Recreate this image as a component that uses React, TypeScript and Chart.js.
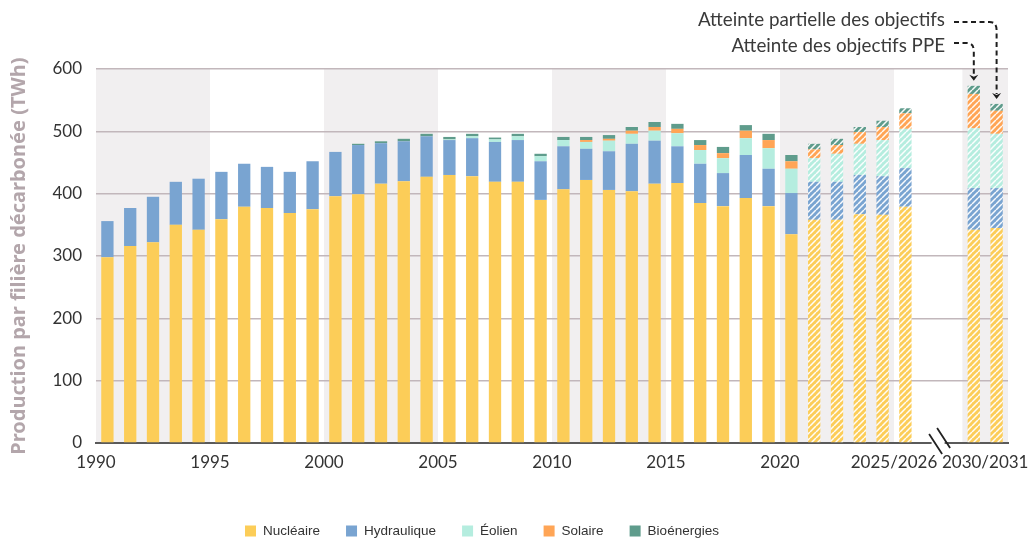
import React, { useEffect, useRef } from "react";
import { Chart, registerables } from "chart.js";

Chart.register(...registerables);

const categories = [
  "1990", "1991", "1992", "1993", "1994", "1995", "1996", "1997", "1998", "1999",
  "2000", "2001", "2002", "2003", "2004", "2005", "2006", "2007", "2008", "2009",
  "2010", "2011", "2012", "2013", "2014", "2015", "2016", "2017", "2018", "2019",
  "2020", "2021", "2022", "2023", "2024", "2025/2026", "…", "……",
  "2030/2031 (objectifs PPE)", "2030/2031 (atteinte partielle)",
];

const tickLabels = [
  "1990", "", "", "", "", "1995", "", "", "", "",
  "2000", "", "", "", "", "2005", "", "", "", "",
  "2010", "", "", "", "", "2015", "", "", "", "",
  "2020", "", "", "", "", "2025/2026", "", "",
  "", "2030/2031",
];

const nucleaire = [
  298, 316, 322, 350, 342, 359, 379, 377, 369, 375,
  396, 399, 416, 420, 427, 430, 428, 419, 419, 390,
  407, 422, 406, 404, 416, 417, 385, 380, 393, 380,
  335, 358, 358, 367, 366, 379, null, null, 342, 345,
];
const hydraulique = [
  58, 61, 73, 69, 82, 76, 69, 66, 66, 77,
  71, 79, 65, 64, 65, 56, 61, 64, 67, 62,
  69, 50, 62, 76, 69, 59, 63, 53, 69, 60,
  66, 61, 61, 63, 62, 62, null, null, 67, 64,
];
const eolien = [
  0, 0, 0, 0, 0, 0, 0, 0, 0, 0,
  0, 0, 0, 0, 0, 1, 3, 4, 6, 8,
  10, 11, 17, 16, 16, 21, 22, 24, 27, 33,
  39, 38, 45, 50, 58, 63, null, null, 96, 87,
];
const solaire = [
  0, 0, 0, 0, 0, 0, 0, 0, 0, 0,
  0, 0, 0, 0, 0, 0, 0, 0, 0, 0,
  0, 3, 3, 5, 6, 7, 8, 8, 12, 13,
  12, 14, 14, 19, 21, 25, null, null, 55, 37,
];
const bioenergies = [
  0, 0, 0, 0, 0, 0, 0, 0, 0, 0,
  0, 2, 3, 4, 4, 4, 4, 3, 4, 4,
  5, 5, 6, 6, 8, 8, 8, 10, 9, 10,
  10, 9, 10, 8, 10, 8, null, null, 13, 11,
];

const seriesNames = ["Nucléaire", "Hydraulique", "Éolien", "Solaire", "Bioénergies"];
const annotationTexts = ["Atteinte partielle des objectifs", "Atteinte des objectifs PPE"];

const COLORS = ["#fccd58", "#79a4d1", "#b5eddf", "#ffa556", "#5f9c8c"];
const HATCH_FROM = 31;
const SHADED_BANDS = [[0, 4], [10, 14], [20, 24], [30, 34], [38, 39]];

function makePattern(color: string): CanvasPattern | string {
  const s = 6;
  const c = document.createElement("canvas");
  c.width = s;
  c.height = s;
  const g = c.getContext("2d");
  if (!g) return color;
  g.fillStyle = color;
  g.fillRect(0, 0, s, s);
  g.strokeStyle = "rgba(255,255,255,0.95)";
  g.lineWidth = 1.5;
  g.beginPath();
  for (const k of [-s, 0, s]) {
    g.moveTo(k, s);
    g.lineTo(k + s, 0);
  }
  g.stroke();
  const p = g.createPattern(c, "repeat");
  return p || color;
}

export default function App() {
  const ref = useRef<HTMLCanvasElement | null>(null);

  useEffect(() => {
    const canvas = ref.current;
    if (!canvas) return;
    const patterns = COLORS.map((c) => makePattern(c));
    const values = [nucleaire, hydraulique, eolien, solaire, bioenergies];

    const bandsPlugin = {
      id: "bands",
      beforeDraw(chart: any) {
        const { ctx, chartArea, scales } = chart;
        const x = scales.x;
        const w = x.getPixelForValue(1) - x.getPixelForValue(0);
        ctx.save();
        ctx.fillStyle = "#f1eff0";
        for (const [a, b] of SHADED_BANDS) {
          const l = x.getPixelForValue(a) - w / 2;
          const r = x.getPixelForValue(b) + w / 2;
          ctx.fillRect(l, chartArea.top, r - l, chartArea.bottom - chartArea.top);
        }
        ctx.restore();
      },
    };

    const overlayPlugin = {
      id: "overlay",
      afterDraw(chart: any) {
        const { ctx, chartArea, scales } = chart;
        const x = scales.x;
        const y = scales.y;
        // axis break
        const cx = (x.getPixelForValue(36) + x.getPixelForValue(37)) / 2;
        const by = chartArea.bottom;
        ctx.save();
        ctx.fillStyle = "#ffffff";
        ctx.fillRect(cx - 8, by - 2.5, 13, 5);
        ctx.strokeStyle = "#222";
        ctx.lineWidth = 1.8;
        ctx.beginPath();
        for (const [ox, oy] of [[-4, 1], [4, -5]]) {
          ctx.moveTo(cx + ox - 6.5, by + oy - 10);
          ctx.lineTo(cx + ox + 6.5, by + oy + 10);
        }
        ctx.stroke();

        // annotations
        const total = (i: number) => values.reduce((s, arr) => s + (arr[i] || 0), 0);
        const xa = x.getPixelForValue(38);
        const xb = x.getPixelForValue(39);
        const ta = y.getPixelForValue(total(38)) - 5;
        const tb = y.getPixelForValue(total(39)) - 5;

        ctx.font = '18.8px Lato, "Open Sans", sans-serif';
        ctx.fillStyle = "#3a3a3a";
        ctx.textAlign = "right";
        ctx.textBaseline = "middle";
        ctx.fillText(annotationTexts[0], 945, 20);
        ctx.fillText(annotationTexts[1], 945, 46);

        ctx.strokeStyle = "#1e1e1e";
        ctx.lineWidth = 2;
        ctx.setLineDash([5, 3.5]);
        ctx.beginPath();
        ctx.moveTo(954, 22);
        ctx.lineTo(xb - 7, 22);
        ctx.quadraticCurveTo(xb, 22, xb, 30);
        ctx.lineTo(xb, tb - 5);
        ctx.moveTo(954, 43);
        ctx.lineTo(xa - 7, 43);
        ctx.quadraticCurveTo(xa, 43, xa, 51);
        ctx.lineTo(xa, ta - 5);
        ctx.stroke();
        ctx.setLineDash([]);
        ctx.fillStyle = "#1e1e1e";
        for (const [px, py] of [[xa, ta], [xb, tb]]) {
          ctx.beginPath();
          ctx.moveTo(px, py);
          ctx.lineTo(px - 4.5, py - 6);
          ctx.lineTo(px, py - 4);
          ctx.lineTo(px + 4.5, py - 6);
          ctx.closePath();
          ctx.fill();
        }

        // legend
        ctx.font = '13.5px "Liberation Sans", Arial, sans-serif';
        ctx.textAlign = "left";
        ctx.textBaseline = "middle";
        let lx = 245;
        const ly = 531;
        seriesNames.forEach((name, k) => {
          ctx.fillStyle = COLORS[k];
          ctx.fillRect(lx, ly - 5.5, 11, 11);
          ctx.fillStyle = "#333";
          ctx.fillText(name, lx + 18, ly);
          lx += 18 + ctx.measureText(name).width + 26;
        });
        ctx.restore();
      },
    };

    const chart = new Chart(canvas, {
      type: "bar",
      data: {
        labels: categories,
        datasets: seriesNames.map((name, k) => ({
          label: name,
          data: values[k],
          backgroundColor: (c: any) =>
            c.dataIndex !== undefined && c.dataIndex >= HATCH_FROM ? patterns[k] : COLORS[k],
          borderWidth: 0,
          categoryPercentage: 1,
          barPercentage: 0.54,
        })),
      },
      options: {
        animation: false,
        responsive: false,
        maintainAspectRatio: false,
        layout: { padding: { left: 0, right: 21, top: 69, bottom: 0 } },
        plugins: {
          legend: { display: false },
          tooltip: { enabled: false },
        },
        scales: {
          x: {
            stacked: true,
            offset: true,
            grid: { display: false, drawTicks: false },
            border: { display: true, color: "#5a5a5a", width: 2 },
            ticks: {
              autoSkip: false,
              maxRotation: 0,
              minRotation: 0,
              labelOffset: -11.4,
              padding: 9,
              color: "#333",
              font: { family: 'Lato, "Open Sans", sans-serif', size: 17 },
              callback: (_v: any, i: number) => tickLabels[i],
            },
            afterFit: (s: any) => {
              s.height = 102;
              s.paddingLeft = 0;
              s.paddingRight = 0;
            },
          },
          y: {
            stacked: true,
            min: 0,
            max: 600,
            border: { display: false },
            grid: { color: "#c2b7bb", lineWidth: 1.5, drawTicks: false },
            ticks: {
              stepSize: 100,
              padding: 14,
              color: "#333",
              font: { family: 'Lato, "Open Sans", sans-serif', size: 17 },
            },
            title: {
              display: true,
              text: "Production par filière décarbonée (TWh)",
              color: "#b3a6ab",
              font: { family: '"Noto Sans", "Open Sans", sans-serif', size: 20, weight: "bold" },
              padding: { top: 7, bottom: 0 },
            },
            afterFit: (s: any) => {
              s.width = 96;
            },
          },
        },
      },
      plugins: [bandsPlugin, overlayPlugin],
    } as any);

    return () => chart.destroy();
  }, []);

  return (
    <div style={{ position: "fixed", left: 0, top: 0, width: 1029, height: 545, background: "#fff" }}>
      <canvas ref={ref} width={1029} height={545} style={{ width: 1029, height: 545, display: "block" }} />
    </div>
  );
}
